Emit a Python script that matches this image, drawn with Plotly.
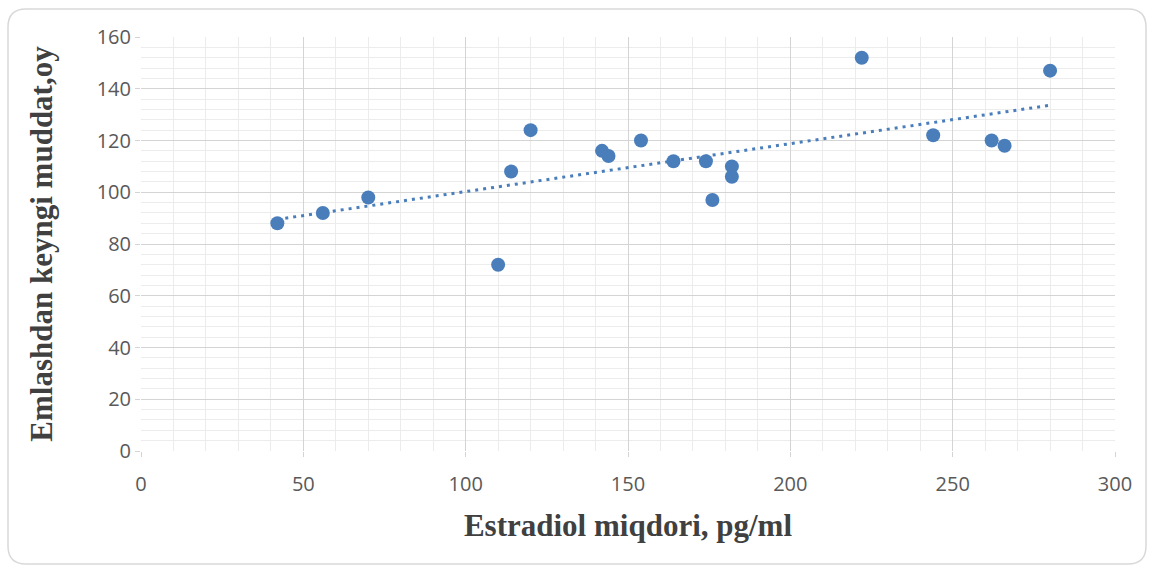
import numpy as np
import plotly.graph_objects as go

estradiol = [42, 56, 70, 110, 114, 120, 142, 144, 154, 164, 174, 176, 182, 182, 222, 244, 262, 266, 280]
muddat = [88, 92, 98, 72, 108, 124, 116, 114, 120, 112, 112, 97, 110, 106, 152, 122, 120, 118, 147]

x_ticks = [0, 50, 100, 150, 200, 250, 300]
y_ticks = [0, 20, 40, 60, 80, 100, 120, 140, 160]

x_title = "Estradiol miqdori, pg/ml"
y_title = "Emlashdan keyngi muddat,oy"

color = "#4A7EBB"

# least-squares linear trendline (as the spreadsheet would compute it)
slope, intercept = np.polyfit(estradiol, muddat, 1)
tx = [min(estradiol), max(estradiol)]
ty = [slope * v + intercept for v in tx]

fig = go.Figure()
fig.add_trace(go.Scatter(x=tx, y=ty, mode="lines",
                         line=dict(color=color, width=3, dash="3px,5px"),
                         hoverinfo="skip", showlegend=False))
fig.add_trace(go.Scatter(x=estradiol, y=muddat, mode="markers",
                         marker=dict(color=color, size=14),
                         showlegend=False))

W, H = 1150, 569
ml, mr, mt, mb = 141, 35, 37, 118
pw, ph = W - ml - mr, H - mt - mb

def px(x):
    return (x - ml) / pw

def py(y):
    return (H - mb - y) / ph

x0, x1, y0, y1, r = 8, 1146, 9, 564, 18
path = (f"M {px(x0 + r)} {py(y0)} L {px(x1 - r)} {py(y0)} "
        f"Q {px(x1)} {py(y0)} {px(x1)} {py(y0 + r)} "
        f"L {px(x1)} {py(y1 - r)} Q {px(x1)} {py(y1)} {px(x1 - r)} {py(y1)} "
        f"L {px(x0 + r)} {py(y1)} Q {px(x0)} {py(y1)} {px(x0)} {py(y1 - r)} "
        f"L {px(x0)} {py(y0 + r)} Q {px(x0)} {py(y0)} {px(x0 + r)} {py(y0)} Z")

fig.add_shape(type="path", path=path, xref="paper", yref="paper",
              line=dict(color="#D9D9D9", width=1.5), layer="below")

tick_font = dict(family="Open Sans, Liberation Sans, sans-serif", size=20, color="#595959")
title_font = dict(family="Liberation Serif, Times New Roman, serif", size=31, color="#404040")

fig.update_layout(
    width=W, height=H,
    margin=dict(l=ml, r=mr, t=mt, b=mb),
    paper_bgcolor="white", plot_bgcolor="white",
    xaxis=dict(range=[0, 300], tickvals=x_ticks, ticktext=[str(v) for v in x_ticks],
               showgrid=True, gridcolor="#D4D4D4", gridwidth=1.2,
               minor=dict(dtick=10, showgrid=True, gridcolor="#ECECEC", gridwidth=1),
               zeroline=False, showline=False,
               ticks="outside", ticklen=5, tickcolor="#D4D4D4",
               tickfont=tick_font, ticklabelstandoff=10,
               title=dict(text=f"<b>{x_title}</b>", font=title_font, standoff=18)),
    yaxis=dict(range=[0, 160], tickvals=y_ticks, ticktext=[str(v) for v in y_ticks],
               showgrid=True, gridcolor="#D4D4D4", gridwidth=1.2,
               minor=dict(dtick=4, showgrid=True, gridcolor="#ECECEC", gridwidth=1),
               zeroline=False, showline=False,
               ticks="outside", ticklen=5, tickcolor="#D4D4D4",
               tickfont=tick_font,
               title=dict(text=f"<b>{y_title}</b>", font=title_font, standoff=34)),
)

fig.write_html("out.html")
